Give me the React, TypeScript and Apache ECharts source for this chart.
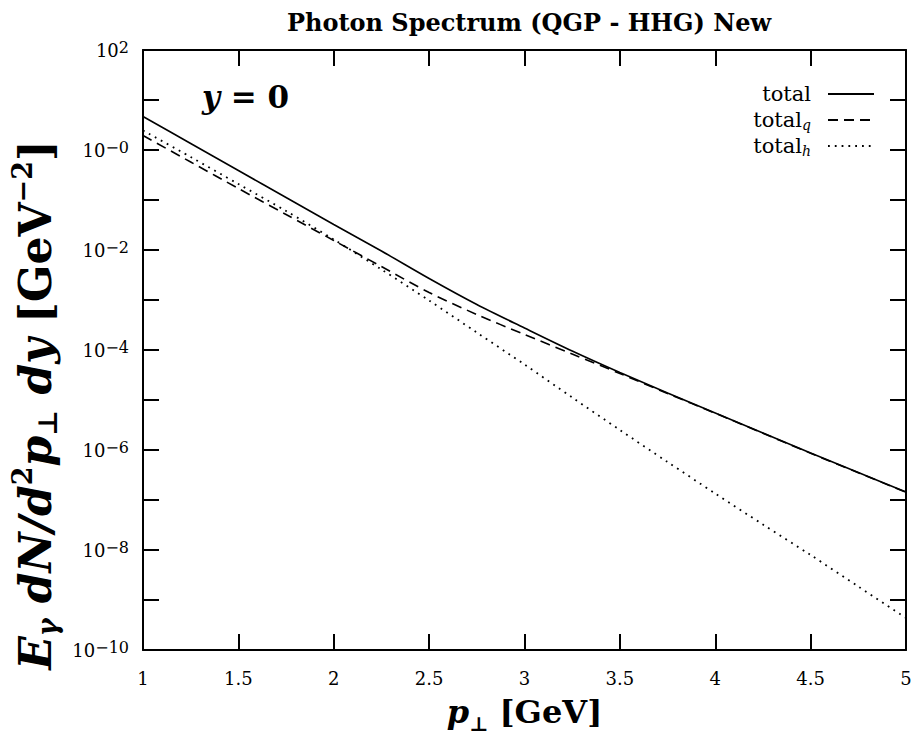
import React, { useEffect, useRef } from "react";
import * as echarts from "echarts";

// transverse momentum p_T [GeV]
const pT = [1, 1.25, 1.5, 1.75, 2, 2.25, 2.5, 2.75, 3, 3.25, 3.5, 3.75, 4, 4.25, 4.5, 4.75, 5];
// log10 of E dN/d^2p dy [GeV^-2]
const log10Total = [0.67, 0.13, -0.41, -0.95, -1.49, -2.02, -2.57, -3.09, -3.56, -4.02, -4.45, -4.86, -5.26, -5.66, -6.06, -6.45, -6.84];
const log10TotalQ = [0.29, -0.24, -0.77, -1.29, -1.81, -2.33, -2.85, -3.29, -3.69, -4.08, -4.47, -4.87, -5.265, -5.665, -6.065, -6.455, -6.845];
const log10TotalH = [0.39, -0.14, -0.68, -1.22, -1.79, -2.39, -3.01, -3.65, -4.29, -4.95, -5.6, -6.24, -6.87, -7.49, -8.1, -8.73, -9.36];

const seriesNames = ["total", "total_q", "total_h"];
const xMin = 1;
const xMax = 5;
const xStep = 0.5;
const yExpMin = -10;
const yExpMax = 2;
const yExpStep = 1;

const FONT = "DejaVu Serif";

function yLabel(v: number): string {
  const n = Math.round(v);
  if (n % 2 !== 0) return "";
  const e = n === 0 ? "\u22120" : n > 0 ? String(n) : "\u2212" + String(-n);
  return `{b|10}{s|${e}}`;
}

export default function App() {
  const ref = useRef<HTMLDivElement>(null);
  useEffect(() => {
    document.body.style.margin = "0";
    if (!ref.current) return;
    const chart = echarts.init(ref.current, null, { renderer: "svg" });
    const pair = (ys: number[]) => pT.map((p, i) => [p, ys[i]]);
    const axisLine = { onZero: false, lineStyle: { color: "#000", width: 2 } };
    const axisTick = { inside: true, length: 16, lineStyle: { color: "#000", width: 2 } };
    const option: any = {
      animation: false,
      backgroundColor: "#fff",
      title: {
        text: "Photon Spectrum (QGP - HHG) New",
        left: 524,
        top: 5,
        textAlign: "center",
        textStyle: { fontFamily: FONT, fontWeight: "bold", fontSize: 24, color: "#000" },
      },
      legend: {
        orient: "vertical",
        right: 42,
        top: 82,
        padding: 0,
        align: "right",
        itemWidth: 46,
        itemHeight: 14,
        itemGap: 2,
        data: seriesNames,
        itemStyle: { color: "rgba(0,0,0,0)", borderColor: "rgba(0,0,0,0)", borderWidth: 0 },
        formatter: (name: string) =>
          name === "total" ? "total" : `total{sub|${name === "total_q" ? "q" : "h"}}`,
        textStyle: {
          fontFamily: FONT,
          fontSize: 21,
          color: "#000",
          lineHeight: 24,
          padding: [0, 12, 0, 0],
          rich: {
            sub: { fontFamily: FONT, fontSize: 14, fontStyle: "italic", lineHeight: 14, verticalAlign: "bottom", color: "#000" },
          },
        },
      },
      grid: { left: 143, right: 11, top: 50, bottom: 88, containLabel: false, outerBoundsMode: "none" },
      xAxis: [
        {
          type: "value",
          min: xMin,
          max: xMax,
          interval: xStep,
          position: "bottom",
          name: "{p|p}{sub|\u22A5}{b| [GeV]}",
          nameLocation: "middle",
          nameGap: 40,
          nameTextStyle: {
            rich: {
              p: { fontFamily: FONT, fontWeight: "bold", fontStyle: "italic", fontSize: 32, lineHeight: 44, color: "#000" },
              sub: { fontFamily: FONT, fontWeight: "bold", fontSize: 20, lineHeight: 20, verticalAlign: "bottom", color: "#000" },
              b: { fontFamily: FONT, fontWeight: "bold", fontSize: 32, lineHeight: 44, color: "#000" },
            },
          },
          axisLine,
          axisTick,
          axisLabel: { margin: 19, color: "#000", fontFamily: FONT, fontSize: 18, formatter: (v: number) => String(v) },
          splitLine: { show: false },
        },
        {
          type: "value",
          min: xMin,
          max: xMax,
          interval: xStep,
          position: "top",
          axisLine,
          axisTick,
          axisLabel: { show: false },
          splitLine: { show: false },
        },
      ],
      yAxis: [
        {
          type: "value",
          min: yExpMin,
          max: yExpMax,
          interval: yExpStep,
          position: "left",
          name: "{bi|E}{sub|\u03B3}{bi| dN/d}{sup|2}{bi|p}{sub|\u22A5}{bi| dy }{b|[GeV}{sup|\u22122}{b|]}",
          nameLocation: "middle",
          nameGap: 77,
          nameTextStyle: {
            padding: [0, 110, 0, 0],
            rich: {
              bi: { fontFamily: FONT, fontWeight: "bold", fontStyle: "italic", fontSize: 44, lineHeight: 52, color: "#000" },
              b: { fontFamily: FONT, fontWeight: "bold", fontSize: 44, lineHeight: 52, color: "#000" },
              sub: { fontFamily: FONT, fontWeight: "bold", fontStyle: "italic", fontSize: 27, lineHeight: 24, verticalAlign: "bottom", color: "#000" },
              sup: { fontFamily: FONT, fontWeight: "bold", fontSize: 27, lineHeight: 24, verticalAlign: "top", color: "#000" },
            },
          },
          axisLine,
          axisTick,
          axisLabel: {
            margin: 14,
            formatter: yLabel,
            rich: {
              b: { fontFamily: FONT, fontSize: 18, lineHeight: 22, color: "#000" },
              s: { fontFamily: FONT, fontSize: 16, lineHeight: 12, verticalAlign: "top", color: "#000" },
            },
          },
          splitLine: { show: false },
        },
        {
          type: "value",
          min: yExpMin,
          max: yExpMax,
          interval: yExpStep,
          position: "right",
          axisLine,
          axisTick,
          axisLabel: { show: false },
          splitLine: { show: false },
        },
      ],
      graphic: [
        {
          type: "text",
          x: 202,
          y: 97,
          style: {
            text: "{i|y}{n| = 0}",
            verticalAlign: "middle",
            rich: {
              i: { fontFamily: FONT, fontWeight: "bold", fontStyle: "italic", fontSize: 31, fill: "#000" },
              n: { fontFamily: FONT, fontWeight: "bold", fontSize: 31, fill: "#000" },
            },
          },
        },
      ],
      series: [
        {
          name: seriesNames[0],
          type: "line",
          data: pair(log10Total),
          smooth: 0.3,
          symbol: "none",
          showSymbol: false,
          lineStyle: { color: "#000", width: 1.6, type: "solid" },
          itemStyle: { color: "#000" },
        },
        {
          name: seriesNames[1],
          type: "line",
          data: pair(log10TotalQ),
          smooth: 0.3,
          symbol: "none",
          showSymbol: false,
          lineStyle: { color: "#000", width: 1.6, type: [10, 6] },
          itemStyle: { color: "#000" },
        },
        {
          name: seriesNames[2],
          type: "line",
          data: pair(log10TotalH),
          smooth: 0.3,
          symbol: "none",
          showSymbol: false,
          lineStyle: { color: "#000", width: 1.8, type: [1.8, 5] },
          itemStyle: { color: "#000" },
        },
      ],
    };
    chart.setOption(option);
    return () => chart.dispose();
  }, []);
  return <div ref={ref} style={{ width: 917, height: 738 }} />;
}
